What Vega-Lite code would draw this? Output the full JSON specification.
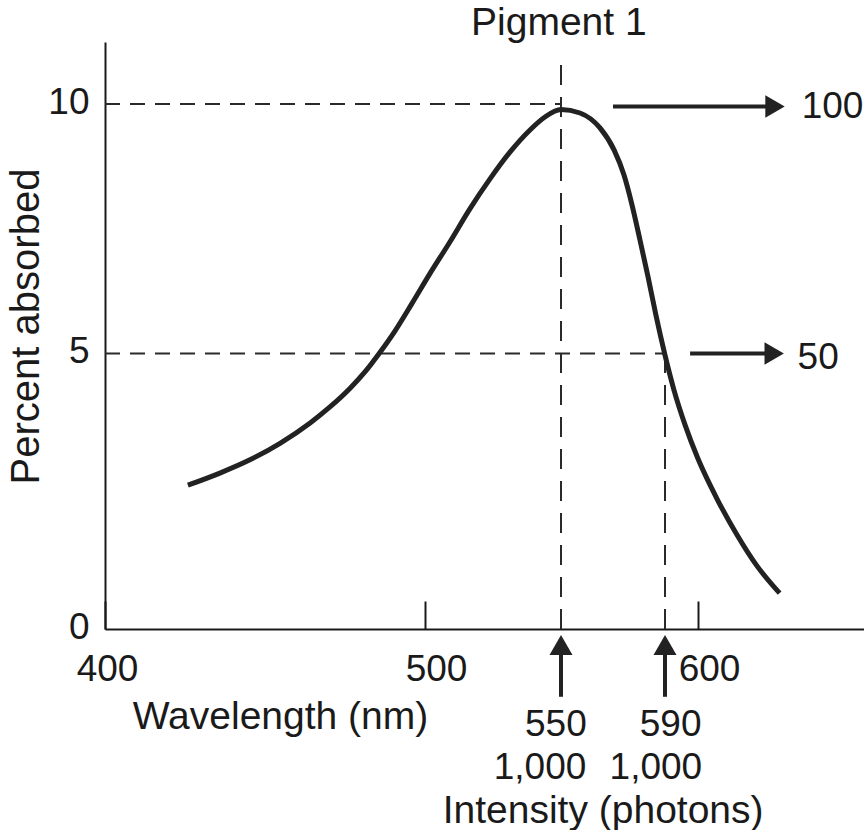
{
  "$schema": "https://vega.github.io/schema/vega-lite/v6.json",
  "width": 759,
  "height": 587,
  "autosize": "none",
  "padding": {"left": 105, "top": 42, "right": 0, "bottom": 201},
  "background": "white",
  "config": {
    "view": {"stroke": null},
    "font": "Liberation Sans",
    "text": {"font": "Liberation Sans", "fontSize": 37, "color": "#1a1a1a"}
  },
  "datasets": {
    "curve": [
      {"x": 425.9, "y": 2.61}, {"x": 435.9, "y": 2.83}, {"x": 445.3, "y": 3.07}, {"x": 454.7, "y": 3.37},
      {"x": 464.1, "y": 3.74}, {"x": 470.3, "y": 4.03}, {"x": 476.6, "y": 4.37}, {"x": 481.3, "y": 4.67},
      {"x": 485.9, "y": 5.02}, {"x": 490.6, "y": 5.45}, {"x": 495.9, "y": 6.00}, {"x": 501.8, "y": 6.60},
      {"x": 509.2, "y": 7.24}, {"x": 516.5, "y": 7.90}, {"x": 523.9, "y": 8.50}, {"x": 531.3, "y": 9.04},
      {"x": 538.6, "y": 9.48}, {"x": 544.1, "y": 9.74}, {"x": 550.0, "y": 9.89}, {"x": 557.3, "y": 9.82},
      {"x": 565.0, "y": 9.52}, {"x": 570.4, "y": 9.08}, {"x": 574.2, "y": 8.58}, {"x": 577.3, "y": 7.98},
      {"x": 580.4, "y": 7.27}, {"x": 583.5, "y": 6.53}, {"x": 586.5, "y": 5.77}, {"x": 590.0, "y": 4.97},
      {"x": 592.7, "y": 4.34}, {"x": 596.1, "y": 3.70}, {"x": 600.0, "y": 3.09}, {"x": 606.6, "y": 2.40},
      {"x": 614.2, "y": 1.72}, {"x": 621.6, "y": 1.15}, {"x": 630.0, "y": 0.65}
    ],
    "hdash": [{"x": 400, "x2": 550, "y": 10}, {"x": 400, "x2": 590, "y": 5}],
    "vdash": [{"x": 550, "y": 0, "y2": 10.78}, {"x": 590, "y": 0, "y2": 5}],
    "harrow": [{"x": 570, "x2": 628, "y": 9.95}, {"x": 597.6, "x2": 628, "y": 5}],
    "hhead": [{"x": 628.3, "y": 9.95}, {"x": 628.0, "y": 5}],
    "varrow": [{"x": 550, "y": -1.23, "y2": -0.35}, {"x": 590, "y": -1.23, "y2": -0.35}],
    "vhead": [{"x": 550, "y": -0.29}, {"x": 590, "y": -0.29}],
    "numtext": [
      {"x": 548.1, "y": -1.95, "label": "550"},
      {"x": 591.7, "y": -1.95, "label": "590"},
      {"x": 542.3, "y": -2.73, "label": "1,000"},
      {"x": 586.5, "y": -2.73, "label": "1,000"}
    ],
    "wordtext": [
      {"x": 549.2, "y": 11.38, "label": "Pigment 1"},
      {"x": 566.2, "y": -3.52, "label": "Intensity (photons)"}
    ],
    "ltext": [
      {"x": 638.1, "y": 9.72, "label": "100"},
      {"x": 636.6, "y": 4.71, "label": "50"}
    ]
  },
  "encoding": {
    "x": {
      "field": "x", "type": "quantitative",
      "scale": {"type": "linear", "domain": [400, 500, 550, 590, 600, 661], "range": [0, 320, 456, 560, 593, 759], "nice": false, "zero": false},
      "axis": {
        "values": [400, 500, 600], "format": "d", "grid": false,
        "domainColor": "#1a1a1a", "domainWidth": 2,
        "tickColor": "#1a1a1a", "tickWidth": 2, "tickSize": -28,
        "labelFont": "Liberation Sans", "labelFontSize": 37, "labelColor": "#1a1a1a",
        "labelFlush": false, "labelOverlap": false, "labelBound": false,
        "labelPadding": 50, "labelOffset": {"condition": {"test": "datum.value == 400", "value": 2}, "value": 11},
        "title": "Wavelength (nm)", "titleFont": "Liberation Sans", "titleFontSize": 39, "titleFontWeight": "normal",
        "titleColor": "#1a1a1a", "titleX": 175, "titleY": 99, "titleAlign": "center", "titleBaseline": "alphabetic"
      }
    },
    "y": {
      "field": "y", "type": "quantitative",
      "scale": {"type": "linear", "domain": [0, 5, 10, 11.242], "range": [587, 311.5, 62, 0], "nice": false, "zero": false},
      "axis": {
        "values": [0, 5, 10], "format": "d", "grid": false, "ticks": false,
        "domainColor": "#1a1a1a", "domainWidth": 2,
        "labelFont": "Liberation Sans", "labelFontSize": 37, "labelColor": "#1a1a1a",
        "labelPadding": 16, "labelOffset": -2, "labelOverlap": false, "labelBound": false, "labelFlush": false,
        "title": "Percent absorbed", "titleFont": "Liberation Sans", "titleFontSize": 40, "titleFontWeight": "normal",
        "titleColor": "#1a1a1a", "titleAngle": -90, "titleX": -67, "titleY": 284, "titleAlign": "center", "titleBaseline": "alphabetic"
      }
    }
  },
  "layer": [
    {"data": {"name": "hdash"}, "mark": {"type": "rule", "strokeDash": [15, 10], "strokeWidth": 2, "color": "#2a2a2a"},
     "encoding": {"x2": {"field": "x2"}}},
    {"data": {"name": "vdash"}, "mark": {"type": "rule", "strokeDash": [20, 12], "strokeWidth": 2, "color": "#2a2a2a"},
     "encoding": {"y2": {"field": "y2"}}},
    {"data": {"name": "curve"}, "mark": {"type": "line", "interpolate": "monotone", "strokeWidth": 5, "color": "#222222"},
     "encoding": {}},
    {"data": {"name": "harrow"}, "mark": {"type": "rule", "strokeWidth": 4, "color": "#222222"},
     "encoding": {"x2": {"field": "x2"}}},
    {"data": {"name": "hhead"}, "mark": {"type": "point", "shape": "triangle-right", "size": 500, "filled": true, "opacity": 1, "color": "#222222"},
     "encoding": {}},
    {"data": {"name": "varrow"}, "mark": {"type": "rule", "strokeWidth": 4, "color": "#222222"},
     "encoding": {"y2": {"field": "y2"}}},
    {"data": {"name": "vhead"}, "mark": {"type": "point", "shape": "triangle-up", "size": 529, "filled": true, "opacity": 1, "color": "#222222"},
     "encoding": {}},
    {"data": {"name": "numtext"}, "mark": {"type": "text", "align": "center", "baseline": "alphabetic", "fontSize": 37},
     "encoding": {"text": {"field": "label"}}},
    {"data": {"name": "wordtext"}, "mark": {"type": "text", "align": "center", "baseline": "alphabetic", "fontSize": 39},
     "encoding": {"text": {"field": "label"}}},
    {"data": {"name": "ltext"}, "mark": {"type": "text", "align": "left", "baseline": "alphabetic", "fontSize": 37},
     "encoding": {"text": {"field": "label"}}}
  ]
}
